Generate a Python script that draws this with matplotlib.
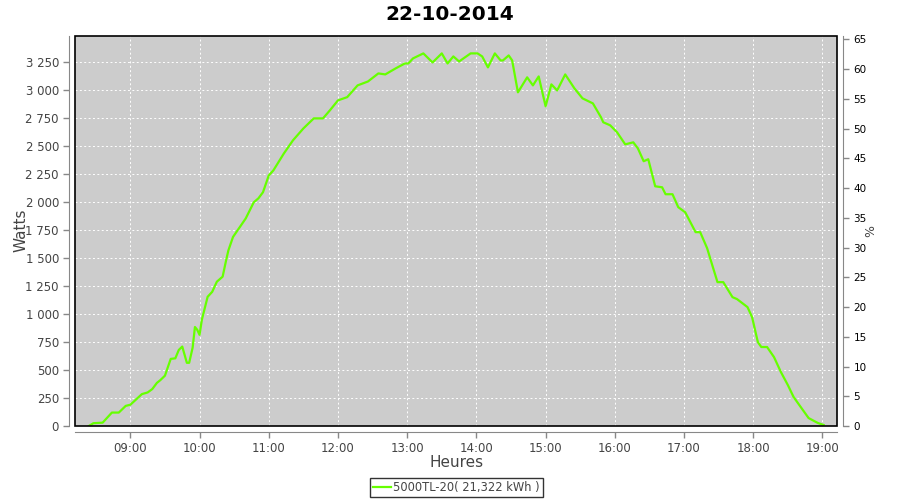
import matplotlib.pyplot as plt
import matplotlib.dates as mdates
import matplotlib.ticker as mticker
import pandas as pd

TITLE = '22-10-2014'
SERIES_LABEL = '5000TL-20( 21,322 kWh )'
TIMES = ['08:24', '08:28', '08:36', '08:44', '08:50', '08:56', '09:00', '09:10',
         '09:15', '09:19', '09:23', '09:26', '09:30', '09:35', '09:39', '09:42',
         '09:45', '09:49', '09:51', '09:54', '09:56', '09:58', '10:00', '10:02',
         '10:07', '10:11', '10:15', '10:20', '10:23', '10:25', '10:29', '10:35',
         '10:40', '10:47', '10:51', '10:55', '11:00', '11:04', '11:13', '11:21',
         '11:30', '11:39', '11:47', '11:53', '12:00', '12:08', '12:17', '12:26',
         '12:35', '12:41', '12:50', '12:58', '13:01', '13:05', '13:14', '13:22',
         '13:30', '13:35', '13:40', '13:45', '13:55', '14:01', '14:05', '14:10',
         '14:16', '14:21', '14:23', '14:28', '14:31', '14:36', '14:44', '14:49',
         '14:54', '15:00', '15:05', '15:10', '15:17', '15:25', '15:32', '15:41',
         '15:48', '15:50', '15:56', '16:02', '16:09', '16:16', '16:20', '16:25',
         '16:29', '16:35', '16:41', '16:44', '16:50', '16:55', '17:01', '17:10',
         '17:14', '17:20', '17:25', '17:29', '17:34', '17:42', '17:46', '17:55',
         '17:59', '18:04', '18:07', '18:12', '18:18', '18:24', '18:30', '18:35',
         '18:43', '18:48', '18:56', '19:01']
WATTS = [0, 25, 30, 120, 120, 180, 190, 285,
         300, 330, 385, 410, 450, 600, 605, 680,
         710, 565, 565, 700, 885, 860, 815, 950,
         1155, 1200, 1290, 1335, 1480, 1570, 1690, 1780,
         1855, 2000, 2035, 2090, 2240, 2285, 2435, 2554,
         2660, 2750, 2750, 2822, 2911, 2940, 3045, 3080,
         3152, 3143, 3197, 3241, 3241, 3286, 3331, 3250,
         3331, 3241, 3304, 3259, 3331, 3331, 3304, 3206,
         3331, 3268, 3268, 3313, 3268, 2983, 3117, 3045,
         3125, 2858, 3054, 3000, 3143, 3018, 2929, 2884,
         2760, 2715, 2688, 2625, 2518, 2536, 2482, 2367,
         2385, 2143, 2134, 2072, 2072, 1956, 1911, 1733,
         1733, 1590, 1420, 1286, 1286, 1152, 1134, 1063,
         973, 750, 706, 706, 616, 482, 366, 259,
         143, 71, 27, 9]
X_RANGE = ('08:12', '19:13')
W_MAX = 3491
PCT_MAX = 65.67

GREEN = '#66ff00'
GREY = '#444444'
AXIS_GREY = '#888888'
TICK_FONTSIZE = 8.5
LABEL_FONTSIZE = 11


def to_dt(hm):
    return pd.to_datetime('2014-10-22 ' + pd.Series(hm))


def space_thousands(v, pos):
    return '{:,.0f}'.format(v).replace(',', ' ')


def style_axis(ax):
    ax.tick_params(colors=AXIS_GREY, labelcolor=GREY, labelsize=TICK_FONTSIZE,
                   length=4, width=1)
    for side in ('left', 'bottom', 'right'):
        ax.spines[side].set_position(('outward', 4))
        ax.spines[side].set_color(AXIS_GREY)
    ax.spines['top'].set_visible(False)


fig = plt.figure(figsize=(9, 5), dpi=100)
ax = fig.add_axes([0.0833, 0.148, 0.8472, 0.781])
ax.set_facecolor('#cccccc')

times = to_dt(TIMES)
ax.plot(times, WATTS, color=GREEN, lw=1.6, label=SERIES_LABEL)

x0, x1 = to_dt(list(X_RANGE))
ax.set_xlim(x0, x1)
ax.set_ylim(0, W_MAX)
ax.yaxis.set_major_locator(mticker.MultipleLocator(250))
ax.yaxis.set_major_formatter(mticker.FuncFormatter(space_thousands))
ax.xaxis.set_major_locator(mdates.HourLocator())
ax.xaxis.set_major_formatter(mdates.DateFormatter('%H:%M'))
ax.grid(True, color='white', ls=(0, (2, 2.5)), lw=0.7)
ax.set_axisbelow(True)
style_axis(ax)
ax.spines['right'].set_visible(False)

# black frame around the data area
ax.add_patch(plt.Rectangle((0, 0), 1, 1, transform=ax.transAxes, fill=False,
                           edgecolor='black', lw=1.2, zorder=5, clip_on=False))

ax.set_xlabel('Heures', fontsize=LABEL_FONTSIZE, color=GREY, labelpad=0)
ax.set_ylabel('Watts', fontsize=LABEL_FONTSIZE, color=GREY, labelpad=-2)

ax2 = ax.twinx()
ax2.set_ylim(0, PCT_MAX)
ax2.yaxis.set_major_locator(mticker.MultipleLocator(5))
style_axis(ax2)
ax2.spines['left'].set_visible(False)
ax2.spines['bottom'].set_visible(False)
ax2.tick_params(labelcolor='black', labelsize=7.5)
ax2.set_ylabel('%', fontsize=9, color=GREY, rotation=270, labelpad=5)

fig.suptitle(TITLE, fontsize=14.5, fontweight='bold', y=0.99)

leg = ax.legend(loc='upper center', bbox_to_anchor=(0.5, -0.133),
                frameon=True, fancybox=False, fontsize=8.3, handlelength=1.6,
                handletextpad=0.2, borderpad=0.25, borderaxespad=0)
leg.get_frame().set_edgecolor('black')
leg.get_frame().set_linewidth(1)
for t in leg.get_texts():
    t.set_color(GREY)

fig.savefig('out.png', dpi=100)
